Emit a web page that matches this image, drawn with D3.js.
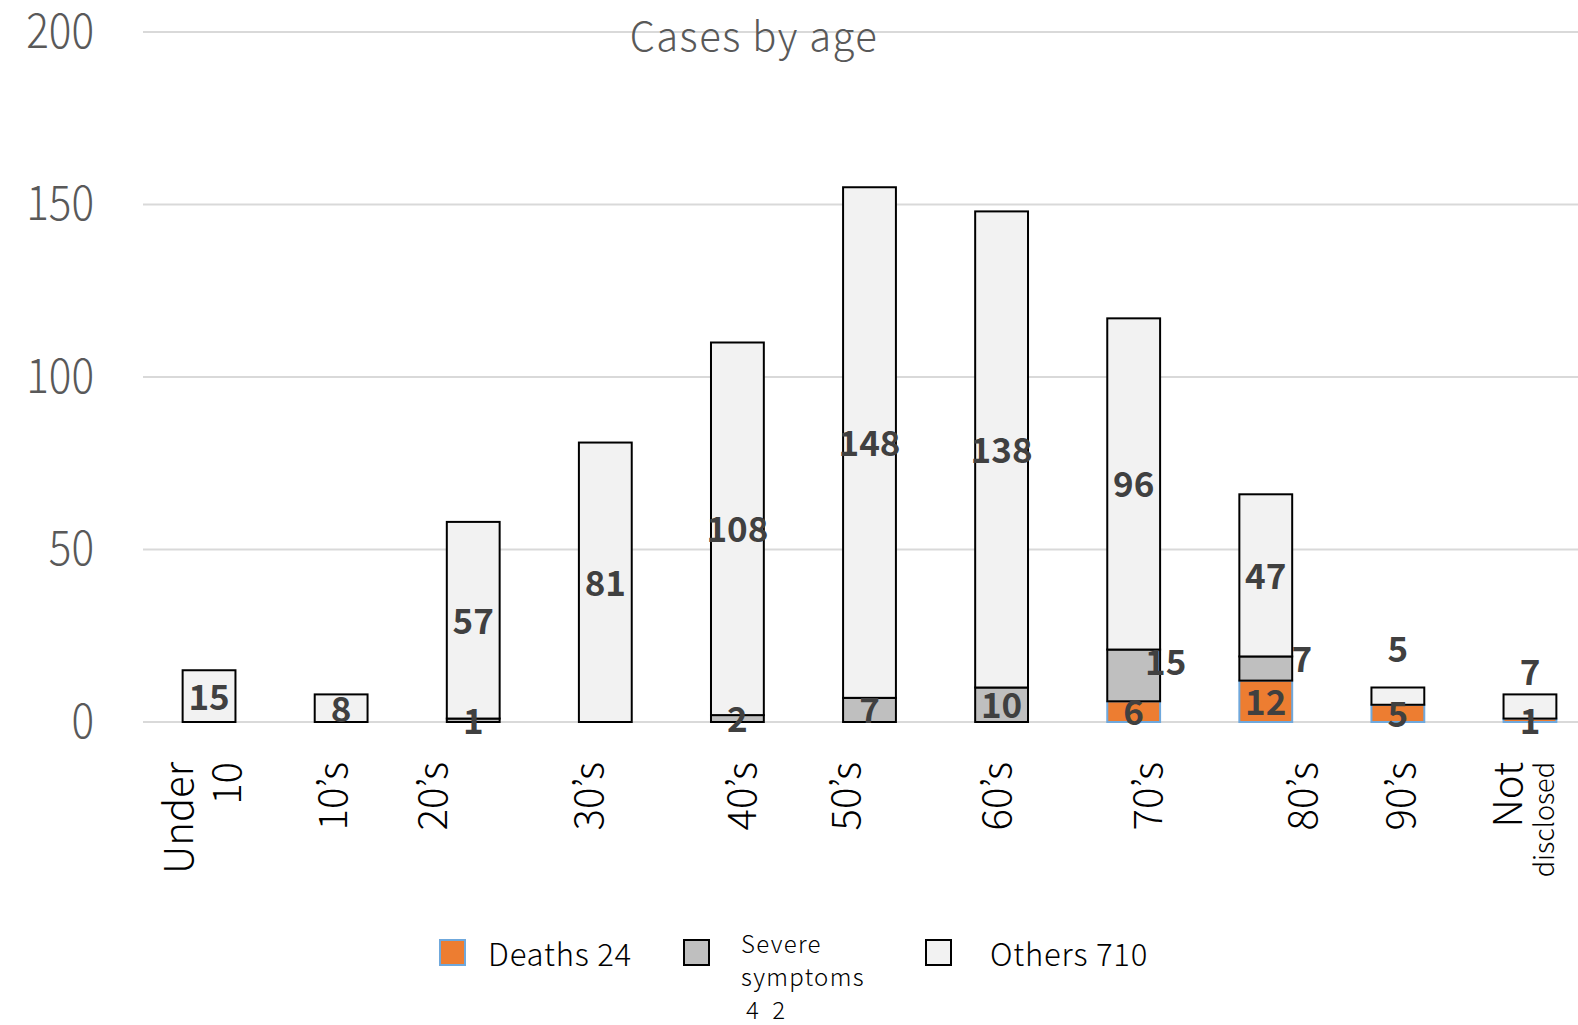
<!DOCTYPE html>
<html>
<head>
<meta charset="utf-8">
<script src="https://cdn.jsdelivr.net/npm/d3@7/dist/d3.min.js"></script>
<style>
  html, body { margin: 0; padding: 0; background: #fff; }
  svg { display: block; }
  text { font-family: "Noto Sans CJK JP", "Noto Sans", sans-serif; }
</style>
</head>
<body>
<div id="chart"></div>
<script>
// ---------------- DATA ----------------
const categories = ["Under 10", "10’s", "20’s", "30’s", "40’s", "50’s", "60’s", "70’s", "80’s", "90’s", "Not disclosed"];
const deaths = [0, 0, 0, 0, 0, 0, 0, 6, 12, 5, 1];
const severe = [0, 0, 1, 0, 2, 7, 10, 15, 7, 0, 0];
const others = [15, 8, 57, 81, 108, 148, 138, 96, 47, 5, 7];
const yTicks = [0, 50, 100, 150, 200];
const title = "Cases by age";
const legendItems = [
  { key: "deaths", lines: ["Deaths 24"] },
  { key: "severe", lines: ["Severe", "symptoms", "4 2"] },
  { key: "others", lines: ["Others 710"] },
];

// ---------------- STYLE ----------------
const W = 1578, H = 1025;
const series = [
  { key: "deaths", values: deaths, fill: "#ED7D31", stroke: "#6FA8DC" },
  { key: "severe", values: severe, fill: "#BFBFBF", stroke: "#000" },
  { key: "others", values: others, fill: "#F2F2F2", stroke: "#000" },
];
// hand-placed labels (as in the original)
const labelNudge = {
  "70’s|severe": [32, -14],
  "80’s|severe": [36, -10],
  "90’s|others": [0, -48],
  "Not disclosed|others": [0, -35],
};
const axisNudge = {
  "Under 10": -6, "10’s": -8, "20’s": -40, "30’s": -16, "40’s": 5,
  "50’s": -24, "60’s": -5, "70’s": 14, "80’s": 37, "90’s": 3, "Not disclosed": 2,
};

const svg = d3.select("#chart").append("svg")
  .attr("width", W).attr("height", H);

const x = d3.scaleBand()
  .domain(categories)
  .range([143, 1596])
  .paddingInner(0.6)
  .paddingOuter(0.3);

const y = d3.scaleLinear().domain([0, 200]).range([722, 32]);

// gridlines
svg.append("g")
  .selectAll("line")
  .data(yTicks)
  .join("line")
  .attr("x1", 143).attr("x2", W)
  .attr("y1", d => y(d)).attr("y2", d => y(d))
  .attr("stroke", "#D9D9D9").attr("stroke-width", 2);

// y tick labels (narrow, light)
svg.append("g")
  .selectAll("text")
  .data(yTicks)
  .join("text")
  .attr("transform", d => `translate(94,${y(d) - 5}) scale(0.88,1)`)
  .attr("text-anchor", "end")
  .attr("dominant-baseline", "central")
  .attr("font-size", 48)
  .attr("font-weight", 300)
  .attr("fill", "#595959")
  .text(d => d);

// title
svg.append("text")
  .attr("x", 754).attr("y", 34)
  .attr("text-anchor", "middle")
  .attr("dominant-baseline", "central")
  .attr("font-size", 40)
  .attr("font-weight", 300)
  .attr("letter-spacing", 1.5)
  .attr("fill", "#595959")
  .text(title);

// stacked bars
const stacked = categories.map((c, i) => {
  let base = 0;
  return series.map(s => {
    const v = s.values[i];
    const seg = { cat: c, key: s.key, value: v, y0: base, y1: base + v, s };
    base += v;
    return seg;
  });
});
const segs = stacked.flat();

svg.append("g")
  .selectAll("rect")
  .data(segs.filter(d => d.value > 0))
  .join("rect")
  .attr("x", d => x(d.cat))
  .attr("width", x.bandwidth())
  .attr("y", d => y(d.y1))
  .attr("height", d => y(d.y0) - y(d.y1))
  .attr("fill", d => d.s.fill)
  .attr("stroke", d => d.s.stroke)
  .attr("stroke-width", 2);

// data labels
svg.append("g")
  .selectAll("text")
  .data(segs.filter(d => d.value > 0))
  .join("text")
  .attr("x", d => x(d.cat) + x.bandwidth() / 2 + (labelNudge[d.cat + "|" + d.key] || [0, 0])[0])
  .attr("y", d => (y(d.y0) + y(d.y1)) / 2 - 2 + (labelNudge[d.cat + "|" + d.key] || [0, 0])[1])
  .attr("text-anchor", "middle")
  .attr("dominant-baseline", "central")
  .attr("font-size", 35)
  .attr("font-weight", "bold")
  .attr("fill", "#404040")
  .text(d => d.value);

// category labels (rotated)
const xl = svg.append("g")
  .selectAll("text")
  .data(categories)
  .join("text")
  .attr("transform", d => `translate(${x(d) + x.bandwidth() / 2 + axisNudge[d]},762) rotate(-90)`)
  .attr("text-anchor", "end")
  .attr("fill", "#000")
  .attr("font-weight", 300)
  .attr("font-size", 40);

xl.each(function (d) {
  const t = d3.select(this);
  const parts = d.split(" ");
  if (parts.length === 1) {
    t.append("tspan").attr("x", 0).attr("dy", "0.35em").text(d);
  } else if (d === "Not disclosed") {
    t.append("tspan").attr("x", 0).attr("dy", "-0.25em").text(parts[0]);
    t.append("tspan").attr("x", 0).attr("dy", "1.2em").attr("font-size", 27).text(parts[1]);
  } else {
    t.append("tspan").attr("x", 0).attr("dy", "-0.25em").text(parts[0]);
    t.append("tspan").attr("x", 0).attr("dy", "1.2em").text(parts[1]);
  }
});

// legend
const legendX = [440, 684, 926];
const lg = svg.append("g")
  .selectAll("g")
  .data(legendItems)
  .join("g")
  .attr("transform", (d, i) => `translate(${legendX[i]},940)`);

lg.append("rect")
  .attr("width", 25).attr("height", 25)
  .attr("fill", d => series.find(s => s.key === d.key).fill)
  .attr("stroke", d => series.find(s => s.key === d.key).stroke)
  .attr("stroke-width", 2);

lg.each(function (d) {
  const g = d3.select(this);
  if (d.lines.length === 1) {
    g.append("text")
      .attr("x", d.key === "deaths" ? 48 : 64).attr("y", 12)
      .attr("dominant-baseline", "central")
      .attr("font-size", 31)
      .attr("font-weight", 300)
      .attr("letter-spacing", 0.8)
      .attr("fill", "#000")
      .text(d.lines[0]);
  } else {
    g.selectAll("text.sev")
      .data(d.lines)
      .join("text")
      .attr("class", "sev")
      .attr("x", (t, i) => i === 2 ? 62 : 57)
      .attr("y", (t, i) => 13 + i * 33)
      .attr("font-family", "Lato, sans-serif")
      .attr("font-size", 24)
      .attr("font-weight", 300)
      .attr("letter-spacing", (t, i) => i === 2 ? 4 : 1.3)
      .attr("fill", "#000")
      .text(t => t);
  }
});
</script>
</body>
</html>
